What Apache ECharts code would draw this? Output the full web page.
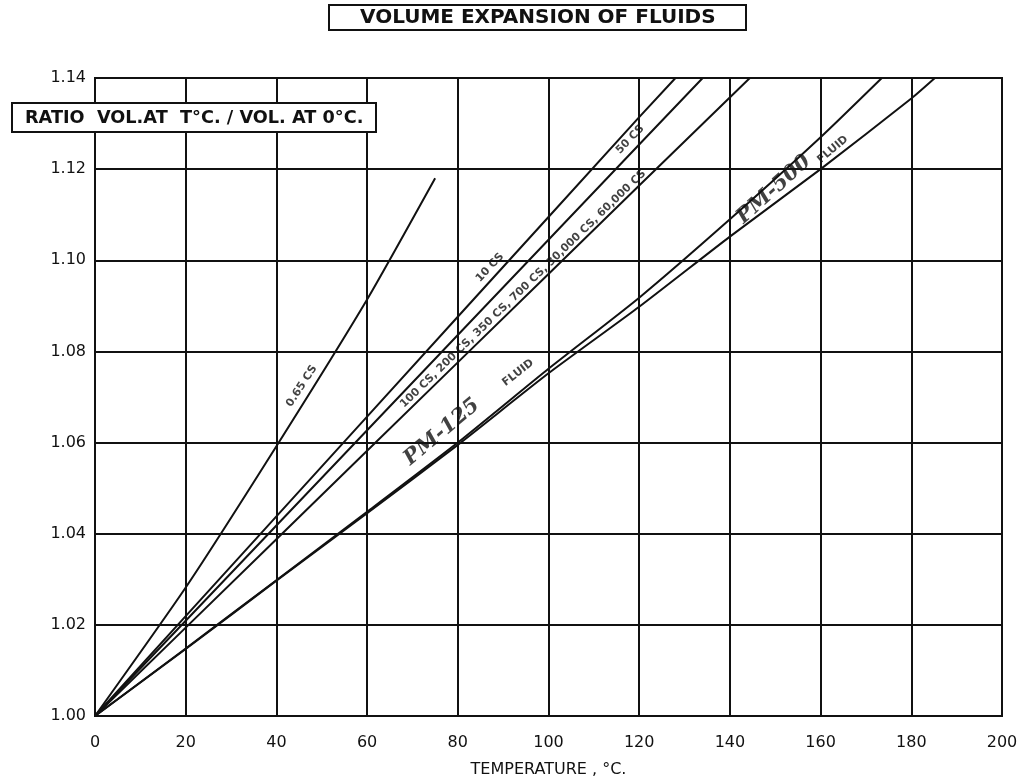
<!DOCTYPE html>
<html>
<head>
<meta charset="utf-8">
<script src="https://cdn.jsdelivr.net/npm/echarts@6/dist/echarts.min.js"></script>
<style>
html,body{margin:0;padding:0;background:#fff;}
#chart{width:1020px;height:779px;}
</style>
</head>
<body>
<div id="chart"></div>
<script>
// ---- data ----
const xTicks = [0, 20, 40, 60, 80, 100, 120, 140, 160, 180, 200];
const yTicks = [1.00, 1.02, 1.04, 1.06, 1.08, 1.10, 1.12, 1.14];

const tCS065 = [0, 20, 40, 60, 75];
const vCS065 = [1.000, 1.0282, 1.0592, 1.0914, 1.1180];

const tCS10 = [0, 20, 40, 60, 80, 100, 120, 128];
const vCS10 = [1.000, 1.0219, 1.0438, 1.0657, 1.0876, 1.1095, 1.1314, 1.1400];

const tCS50 = [0, 20, 40, 60, 80, 100, 120, 134];
const vCS50 = [1.000, 1.0209, 1.0418, 1.0627, 1.0836, 1.1045, 1.1254, 1.1400];

const tCS100 = [0, 20, 40, 60, 80, 100, 120, 144.4];
const vCS100 = [1.000, 1.0194, 1.0388, 1.0582, 1.0776, 1.0970, 1.1164, 1.1400];

const tPM125 = [0, 20, 40, 60, 80, 100, 120, 140, 160, 173.5];
const vPM125 = [1.000, 1.0148, 1.0298, 1.0448, 1.0600, 1.0762, 1.0918, 1.1090, 1.1270, 1.1400];

const tPM500 = [0, 20, 40, 60, 80, 100, 120, 140, 160, 180, 185.2];
const vPM500 = [1.000, 1.0147, 1.0297, 1.0445, 1.0595, 1.0752, 1.0898, 1.1052, 1.1200, 1.1355, 1.1400];

// curve annotations (text, anchor temperature, anchor ratio, angle)
const noteText = ['0.65 CS', '10 CS', '50 CS',
  '100 CS, 200 CS, 350 CS, 700 CS, 30,000 CS, 60,000 CS',
  'FLUID', 'FLUID'];
const noteT = [45.6, 87.1, 118, 94.4, 93.3, 162.7];
const noteV = [1.0724, 1.0984, 1.1265, 1.0937, 1.0753, 1.1243];
const noteAngle = [57, 47, 46, 44, 38, 40];

const handText = ['PM-125', 'PM-500'];
const handT = [76.5, 149.7];
const handV = [1.0623, 1.1155];
const handAngle = [40, 42];

// ---- chart ----
const zip = (a, b) => a.map((x, i) => [x, b[i]]);
const FONT = 'DejaVu Sans';

function curve(name, t, v, smooth) {
  return {
    name: name, type: 'line', data: zip(t, v), smooth: smooth,
    showSymbol: false, symbol: 'none', silent: true,
    lineStyle: { color: '#111', width: 2 }, z: 3
  };
}

const chart = echarts.init(document.getElementById('chart'), null, { renderer: 'canvas' });

chart.setOption({
  backgroundColor: '#fff',
  animation: false,
  title: [
    {
      text: 'VOLUME EXPANSION OF FLUIDS',
      left: 329, top: 5,
      padding: [3, 31, 2, 31],
      borderColor: '#111', borderWidth: 2,
      textStyle: { fontFamily: FONT, fontSize: 20, fontWeight: 'bold', color: '#111' }
    },
    {
      text: 'RATIO  VOL.AT  T°C. / VOL. AT 0°C.',
      left: 12, top: 103,
      padding: [6, 13, 5, 13],
      backgroundColor: '#fff',
      borderColor: '#111', borderWidth: 2,
      textStyle: { fontFamily: FONT, fontSize: 17.7, fontWeight: 'bold', color: '#111' }
    }
  ],
  grid: {
    left: 95, right: 18, top: 78, bottom: 63,
    outerBoundsMode: 'none', containLabel: false,
    show: true, borderColor: '#111', borderWidth: 2, backgroundColor: 'transparent'
  },
  xAxis: {
    type: 'value', min: 0, max: 200, interval: 20,
    name: 'TEMPERATURE , °C.', nameLocation: 'middle', nameGap: 46,
    nameTextStyle: { fontFamily: FONT, fontSize: 16, color: '#111' },
    axisLine: { show: true, lineStyle: { color: '#111', width: 2 } },
    axisTick: { show: false },
    axisLabel: { margin: 19, fontFamily: FONT, fontSize: 16, color: '#111',
      formatter: v => xTicks.includes(v) ? String(v) : '' },
    splitLine: { show: true, lineStyle: { color: '#111', width: 2 } }
  },
  yAxis: {
    type: 'value', min: 1.00, max: 1.14, interval: 0.02,
    axisLine: { show: true, lineStyle: { color: '#111', width: 2 } },
    axisTick: { show: false },
    axisLabel: { margin: 9, fontFamily: FONT, fontSize: 16, color: '#111',
      formatter: v => v.toFixed(2) },
    splitLine: { show: true, lineStyle: { color: '#111', width: 2 } }
  },
  series: [
    curve('0.65 cs', tCS065, vCS065, 0.2),
    curve('10 cs', tCS10, vCS10, false),
    curve('50 cs', tCS50, vCS50, false),
    curve('100 cs+', tCS100, vCS100, false),
    curve('PM-125 fluid', tPM125, vPM125, 0.2),
    curve('PM-500 fluid', tPM500, vPM500, 0.2),
    {
      name: 'notes', type: 'scatter', symbolSize: 0, silent: true, z: 5,
      data: noteText.map((s, i) => ({
        name: s, value: [noteT[i], noteV[i]],
        label: { rotate: noteAngle[i] }
      })),
      label: { show: true, position: 'inside', formatter: p => p.name,
        fontFamily: FONT, fontSize: 11, fontWeight: 'bold', color: '#111' }
    },
    {
      name: 'handwritten', type: 'scatter', symbolSize: 0, silent: true, z: 5,
      data: handText.map((s, i) => ({
        name: s, value: [handT[i], handV[i]],
        label: { rotate: handAngle[i] }
      })),
      label: { show: true, position: 'inside', formatter: p => p.name,
        fontFamily: 'DejaVu Serif', fontStyle: 'italic', fontSize: 21, fontWeight: 'bold', color: '#111' }
    }
  ]
});
</script>
</body>
</html>
